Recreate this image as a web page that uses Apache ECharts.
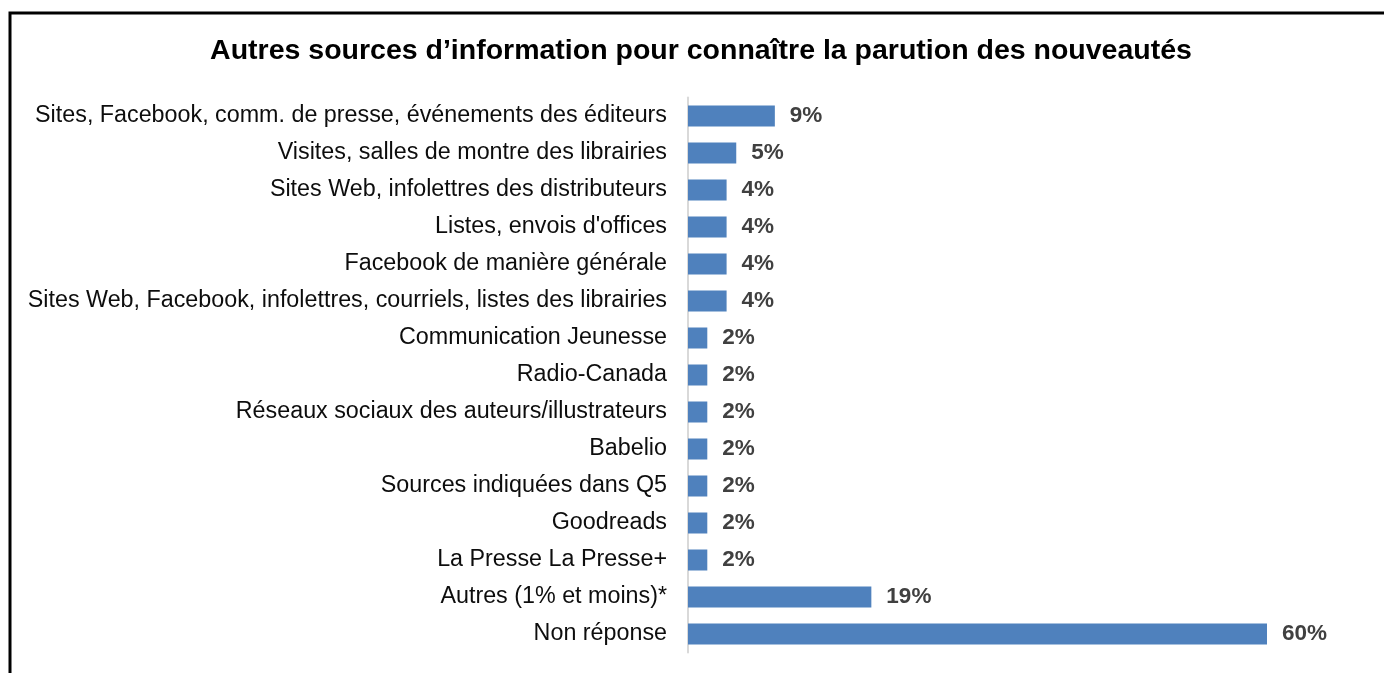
<!DOCTYPE html>
<html>
<head>
<meta charset="utf-8">
<script src="https://cdn.jsdelivr.net/npm/echarts@6/dist/echarts.min.js"></script>
<style>
html,body{margin:0;padding:0;background:#fff;}
#chart{width:1384px;height:673px;}
</style>
</head>
<body>
<div id="chart"></div>
<script>
const titleText = "Autres sources d’information pour connaître la parution des nouveautés";
const categories = [
  "Sites, Facebook, comm. de presse, événements des éditeurs",
  "Visites, salles de montre des librairies",
  "Sites Web, infolettres des distributeurs",
  "Listes, envois d'offices",
  "Facebook de manière générale",
  "Sites Web, Facebook, infolettres, courriels, listes des librairies",
  "Communication Jeunesse",
  "Radio-Canada",
  "Réseaux sociaux des auteurs/illustrateurs",
  "Babelio",
  "Sources indiquées dans Q5",
  "Goodreads",
  "La Presse La Presse+",
  "Autres (1% et moins)*",
  "Non réponse"
];
const values = [9, 5, 4, 4, 4, 4, 2, 2, 2, 2, 2, 2, 2, 19, 60];

const chart = echarts.init(document.getElementById('chart'), null, {renderer: 'canvas'});
chart.setOption({
  animation: false,
  backgroundColor: '#ffffff',
  title: {
    text: titleText,
    left: 696,
    textAlign: 'center',
    top: 32,
    textStyle: {
      fontFamily: 'Liberation Sans, Arial, sans-serif',
      fontWeight: 'bold',
      fontSize: 28.5,
      color: '#000000'
    }
  },
  graphic: [{
    type: 'rect',
    shape: {x: 10, y: 13, width: 1400, height: 700},
    style: {fill: 'none', stroke: '#000000', lineWidth: 3},
    silent: true
  }],
  grid: {left: 688, right: 117, top: 97.5, bottom: 20.5, containLabel: false},
  xAxis: {
    type: 'value', min: 0, max: 60, show: false
  },
  yAxis: {
    type: 'category',
    data: categories,
    inverse: true,
    axisLine: {show: true, lineStyle: {color: '#d9d9d9', width: 2}},
    axisTick: {show: false},
    axisLabel: {
      margin: 21,
      fontFamily: 'Liberation Sans, Arial, sans-serif',
      fontSize: 23.3,
      color: '#0d0d0d'
    }
  },
  series: [{
    type: 'bar',
    data: values,
    barWidth: 21,
    itemStyle: {color: '#4f81bd'},
    label: {
      show: true,
      position: 'right',
      distance: 15,
      formatter: '{c}%',
      fontFamily: 'Liberation Sans, Arial, sans-serif',
      fontWeight: 'bold',
      fontSize: 22.5,
      color: '#404040'
    }
  }]
});
</script>
</body>
</html>
